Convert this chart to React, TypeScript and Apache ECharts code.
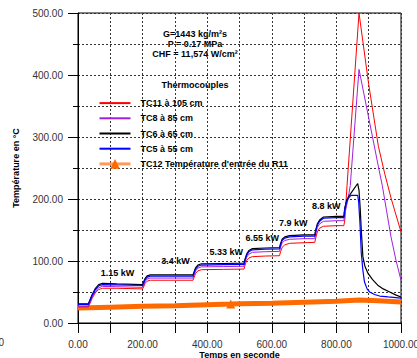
import React, { useEffect, useRef } from 'react';
import * as echarts from 'echarts';

// ---- data ----
const seriesNames = ['TC11 à 105 cm', 'TC8 à 85 cm', 'TC6 à 65 cm', 'TC5 à 55 cm', "TC12 Température d'entrée du R11"];
const seriesColors = ['#ff0000', '#a020e0', '#000000', '#0000ff', '#ff6a00'];

const tc11: [number, number][] = [
  [0, 26], [32, 26], [36, 30], [44, 40], [54, 49], [64, 54], [76, 56], [120, 56], [200, 55],
  [203, 58], [208, 64], [214, 67.5], [224, 69], [300, 69], [356, 69],
  [359, 73], [364, 80], [371, 84], [382, 86], [450, 86.5], [514, 87],
  [517, 93], [522, 101], [529, 105], [540, 107], [580, 108], [624, 108.5],
  [627, 115], [632, 122], [640, 126], [655, 128.5], [700, 129.5], [733, 130],
  [736, 137], [741, 147], [748, 153], [760, 156], [800, 157], [823, 157],
  [826, 166], [833, 222], [870, 500], [900, 385], [930, 285], [950, 240], [970, 200], [1000, 147],
];
const tc8: [number, number][] = [
  [0, 27], [32, 27], [36, 32], [44, 42], [54, 51], [64, 57], [76, 59], [120, 58.5], [200, 57.5],
  [203, 61], [208, 67], [214, 71], [224, 72.5], [300, 72.5], [356, 72.5],
  [359, 77], [364, 84], [371, 88.5], [382, 90.5], [450, 91], [514, 91.5],
  [517, 98], [522, 106], [529, 111], [540, 114], [580, 115], [624, 115.5],
  [627, 122], [632, 129], [640, 133], [655, 135], [700, 136], [733, 136],
  [736, 144], [741, 154], [748, 160], [760, 164], [800, 165], [823, 165],
  [826, 176], [836, 200], [843, 222], [870, 409], [900, 331], [932, 247], [942, 222],
  [955, 182], [969, 139], [985, 100], [1000, 69],
];
const tc6: [number, number][] = [
  [0, 31], [32, 31], [36, 36], [44, 46], [54, 56], [64, 62], [76, 64], [120, 63], [200, 62],
  [203, 66], [208, 72], [214, 76], [224, 77.5], [300, 77.5], [356, 77.5],
  [359, 82], [364, 89], [371, 93.5], [382, 95.5], [450, 96], [514, 96.5],
  [517, 103], [522, 111], [529, 117], [540, 120], [580, 121], [624, 121.5],
  [627, 128], [632, 135], [640, 139], [655, 141], [700, 142], [733, 142],
  [736, 150], [741, 160], [748, 166], [760, 171], [800, 172], [823, 172],
  [826, 186], [832, 198], [838, 204], [850, 213], [866, 225], [870, 214], [874, 182],
  [877, 150], [882, 107], [888, 92], [898, 80], [912, 70], [928, 61], [945, 55],
  [965, 50], [985, 45], [1000, 42],
];
const tc5: [number, number][] = [
  [0, 30], [32, 30], [36, 35], [44, 45], [54, 54], [64, 60], [76, 62], [120, 61.5], [200, 60.5],
  [203, 64], [208, 70], [214, 74], [224, 75.5], [300, 75.5], [356, 75.5],
  [359, 80], [364, 87], [371, 91.5], [382, 93.5], [450, 94], [514, 94.5],
  [517, 101], [522, 109], [529, 115], [540, 118], [580, 119], [624, 119.5],
  [627, 126], [632, 133], [640, 137], [655, 139], [700, 140], [733, 140],
  [736, 148], [741, 158], [748, 164], [760, 169], [800, 170], [823, 170],
  [826, 184], [832, 196], [838, 202], [845, 206], [866, 206], [869, 195], [873, 160],
  [877, 113], [882, 85], [887, 66], [895, 55], [903, 50], [918, 46], [934, 43.5],
  [960, 42], [1000, 40],
];
const tc12: [number, number][] = [
  [0, 24], [100, 25.5], [200, 27], [300, 28], [400, 29.5], [473, 30.5], [500, 31],
  [600, 32], [700, 33.5], [800, 35], [870, 37], [930, 36], [1000, 34],
];
const tc12MarkerTimes = [473];

const conditionLines = ['G=1443 kg/m²s', 'P = 0.17 MPa', 'CHF = 11,574 W/cm²'];
const legendTitle = 'Thermocouples';
const powerLabels = ['1.15 kW', '3.4 kW', '5.33 kW', '6.55 kW', '7.9 kW', '8.8 kW'];
const powerLabelPos: [number, number][] = [
  [117.5, 273], [175.5, 261], [226.3, 252.3], [262.3, 238.3], [293.3, 223.3], [326.3, 205.7],
];
const xTitle = 'Temps en seconde';
const yTitle = 'Température en °C';

export default function App() {
  const ref = useRef<HTMLDivElement>(null);

  useEffect(() => {
    if (!ref.current) return;
    const chart = echarts.init(ref.current, null, { renderer: 'svg' });
    const font = 'Liberation Sans, Arial, sans-serif';
    const gridLine = { show: true, lineStyle: { color: '#333', type: [2, 2] as any, width: 1 } };
    const boldText = { fontFamily: font, fontSize: 9, fontWeight: 'bold', fill: '#000' };

    const lineData = [tc11, tc8, tc6, tc5];
    const lineSeries = lineData.map((d, i) => ({
      type: 'line',
      name: seriesNames[i],
      data: d,
      symbol: 'none',
      showSymbol: false,
      lineStyle: { color: seriesColors[i], width: i >= 2 ? 1.2 : 1 },
      itemStyle: { color: seriesColors[i] },
      z: 3 + i,
    }));

    const orangeSeries = {
      type: 'line',
      name: seriesNames[4],
      data: tc12.map((p) =>
        tc12MarkerTimes.includes(p[0])
          ? { value: p, symbol: 'triangle', symbolSize: 9 }
          : { value: p, symbol: 'none' }
      ),
      symbol: 'triangle',
      symbolSize: 9,
      showSymbol: true,
      lineStyle: { color: seriesColors[4], width: 5 },
      itemStyle: { color: seriesColors[4] },
      z: 2,
    };

    const graphics: any[] = [];
    conditionLines.forEach((t, i) => {
      graphics.push({
        type: 'text', x: 195, y: 33.5 + i * 10,
        style: { ...boldText, text: t, textAlign: 'center', textVerticalAlign: 'middle' },
      });
    });
    graphics.push({
      type: 'text', x: 195, y: 85,
      style: { ...boldText, text: legendTitle, textAlign: 'center', textVerticalAlign: 'middle' },
    });
    powerLabels.forEach((t, i) => {
      graphics.push({
        type: 'text', x: powerLabelPos[i][0], y: powerLabelPos[i][1],
        style: { ...boldText, text: t, textAlign: 'center', textVerticalAlign: 'middle' },
      });
    });
    graphics.push({
      type: 'text', x: -1.5, y: 342,
      style: { fontFamily: font, fontSize: 10, fill: '#333', text: '0', textAlign: 'left', textVerticalAlign: 'middle' },
    });

    chart.setOption({
      animation: false,
      backgroundColor: '#fff',
      grid: {
        left: 78, right: 16, top: 13, bottom: 35, show: true, borderColor: '#000', borderWidth: 1,
        backgroundColor: 'transparent', containLabel: false, outerBoundsMode: 'none',
      },
      xAxis: {
        type: 'value', min: 0, max: 1000, interval: 100,
        name: xTitle, nameLocation: 'middle', nameGap: 27, nameMoveOverlap: false,
        nameTextStyle: { fontFamily: font, fontSize: 9, fontWeight: 'bold', color: '#000' },
        axisLine: { show: true, lineStyle: { color: '#000', width: 1 } },
        axisTick: { show: true, length: 10, lineStyle: { color: '#000' } },
        axisLabel: {
          margin: 16, fontFamily: font, fontSize: 10, color: '#333',
          formatter: (v: number) => (v % 200 === 0 ? v.toFixed(2) : ''),
        },
        splitLine: gridLine,
      },
      yAxis: {
        type: 'value', min: 0, max: 500, interval: 100,
        name: yTitle, nameLocation: 'middle', nameGap: 58, nameMoveOverlap: false,
        nameTextStyle: { fontFamily: font, fontSize: 9, fontWeight: 'bold', color: '#000' },
        axisLine: { show: true, lineStyle: { color: '#000', width: 1 } },
        axisTick: { show: true, length: 10, lineStyle: { color: '#000' } },
        minorTick: { show: true, splitNumber: 2, length: 5, lineStyle: { color: '#000' } },
        axisLabel: {
          margin: 15, fontFamily: font, fontSize: 10, color: '#333',
          formatter: (v: number) => v.toFixed(2),
        },
        splitLine: gridLine,
        minorSplitLine: gridLine,
      },
      legend: {
        orient: 'vertical', left: 98, top: 98.3, padding: 0,
        itemWidth: 31, itemHeight: 12, itemGap: 5.6,
        textStyle: { fontFamily: font, fontSize: 9, fontWeight: 'bold', color: '#000', padding: [0, 0, 0, 5] },
        data: [
          { name: seriesNames[0], itemStyle: { opacity: 0 } },
          { name: seriesNames[1], itemStyle: { opacity: 0 } },
          { name: seriesNames[2], itemStyle: { opacity: 0 } },
          { name: seriesNames[3], itemStyle: { opacity: 0 } },
          { name: seriesNames[4], lineStyle: { color: '#ff9a5c', width: 3 }, itemStyle: { color: '#ff6a00' } },
        ],
      },
      series: [orangeSeries, ...lineSeries],
      graphic: graphics,
    });
    return () => chart.dispose();
  }, []);

  return <div ref={ref} style={{ position: 'fixed', left: 0, top: 0, width: 417, height: 358 }} />;
}
